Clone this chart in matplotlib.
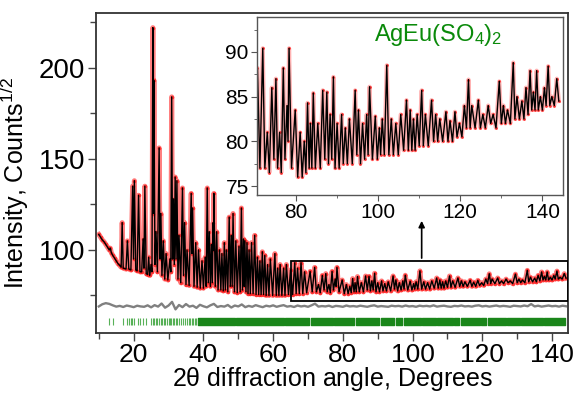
import numpy as np
import matplotlib
matplotlib.use("Agg")
import matplotlib.pyplot as plt
from matplotlib.ticker import MultipleLocator

plt.rcParams['font.family'] = ['Liberation Sans', 'DejaVu Sans']
plt.rcParams['mathtext.default'] = 'regular'

tth = [10.0, 10.5, 11.0, 11.5, 12.0, 12.5, 13.0, 13.3, 13.6, 14.0, 14.5, 15.0, 15.5, 16.0, 16.4,
       16.7, 17.0, 17.8, 18.2, 18.6, 19.2, 19.7, 19.95, 20.2, 20.6, 21.0, 21.4, 21.8, 22.3, 22.7,
       22.95, 23.2, 23.6, 24.0, 24.3, 24.6, 25.0, 25.25, 25.5, 25.65, 25.8, 26.1, 26.4, 26.8, 27.3,
       27.55, 27.8, 28.1, 28.5, 28.9, 29.3, 29.8, 30.4, 30.65, 30.9, 31.15, 31.4, 31.65, 31.9, 32.15,
       32.4, 32.7, 33.0, 33.5, 34.0, 34.3, 34.6, 35.0, 35.3, 35.9, 36.5, 36.7, 36.9, 37.3, 37.8,
       38.2, 38.6, 39.1, 39.6, 40.0, 40.5, 40.8, 41.1, 41.4, 41.7, 42.0, 42.3, 42.55, 42.8, 42.9,
       43.0, 43.4, 43.8, 44.2, 44.6, 45.0, 45.3, 45.7, 46.0, 46.3, 46.6, 47.0, 47.4, 47.7, 48.0,
       48.25, 48.5, 48.9, 49.3, 49.7, 50.2, 50.55, 50.9, 51.2, 51.5, 51.7, 51.9, 52.2, 52.5, 52.8,
       53.1, 53.45, 53.8, 54.25, 54.7, 55.1, 55.5, 55.85, 56.2, 56.55, 56.9, 57.25, 57.6, 58.0, 58.4,
       58.8, 59.2, 59.85, 60.5, 60.9, 61.3, 61.65, 62.0, 62.5, 63.0, 63.4, 63.8, 64.4, 65.0, 65.6,
       66.2, 66.6, 67.0, 67.5, 68.0, 68.5, 69.0, 69.6, 70.6, 71.2, 71.9, 72.4, 73.0, 73.5, 74.1,
       74.6, 75.1, 75.5, 76.0, 76.4, 76.9, 77.3, 77.8, 78.05, 78.3, 78.9, 79.8, 80.4, 81.0, 81.5,
       82.0, 82.4, 82.8, 83.2, 83.5, 83.85, 84.2, 84.7, 85.3, 85.9, 86.5, 87.0, 87.5, 87.9, 88.3,
       88.7, 89.1, 89.5, 90.0, 90.5, 91.1, 91.5, 92.0, 92.5, 93.0, 93.7, 94.4, 94.8, 95.2, 95.7,
       96.2, 96.7, 97.2, 97.55, 97.9, 98.6, 99.3, 99.8, 100.3, 100.6, 101.0, 101.5, 102.1, 102.6, 103.2,
       103.7, 104.3, 104.9, 105.5, 106.2, 106.9, 107.35, 107.8, 108.2, 108.6, 109.0, 109.5, 110.0, 110.6,
       111.0, 111.5, 112.2, 113.0, 113.5, 114.0, 114.5, 115.0, 115.7, 116.5, 117.0, 117.5, 118.1, 118.7,
       119.2, 119.8, 120.4, 121.0, 121.5, 122.0, 122.4, 122.8, 123.6, 124.4, 124.9, 125.5, 126.1, 126.8,
       127.4, 128.0, 128.7, 129.5, 130.0, 130.5, 131.0, 131.5, 132.2, 132.9, 133.3, 133.8, 134.4, 135.0,
       135.5, 136.0, 136.5, 137.0, 137.4, 137.8, 138.2, 138.6, 139.0, 139.5, 140.0, 140.5, 140.9, 141.4,
       141.8, 142.3, 142.9, 143.5, 144.0]
intensity = [108.5, 107, 105.5, 104.5, 103, 101.5, 100, 101, 98.5, 97, 95.5, 94, 92.5, 91.5, 90.5,
             115, 90, 89.5, 105, 89.5, 89, 135, 95, 138, 89, 88.5, 130, 88, 88, 106,
             90, 135, 87, 86.5, 96, 86, 92, 88, 222, 120, 193, 92, 110, 88, 156,
             95, 120, 86, 105, 84, 98, 83.5, 95, 88, 184, 95, 128, 92, 140, 95,
             138, 84, 108, 82, 134, 86, 115, 81, 100, 80.5, 131, 98, 123, 80, 104,
             79.5, 100, 79, 94, 79, 96, 80, 134, 82, 110, 80, 103, 82, 115, 100,
             131, 80, 110, 78, 100, 78, 98, 77.5, 104, 78, 100, 77, 118, 80, 108,
             80, 120, 77, 105, 76.5, 102, 77, 123, 78, 106, 80, 105, 77, 104, 76,
             100, 76, 104, 76, 108, 75.5, 96, 75.5, 94, 75.5, 99, 75.5, 97, 75, 92,
             75, 95, 75, 98, 75, 90, 75, 92, 75, 90, 75, 92, 75.5, 89, 75.5,
             93, 76, 90, 76, 93, 76, 88, 76.5, 88.2, 77, 90.4, 77, 81, 76.5, 86,
             78, 87, 77, 81, 76.5, 88.2, 78, 84, 80, 90.4, 77, 83.5, 76, 81, 76,
             80, 76.5, 84.3, 77, 82, 77, 85.4, 77, 82, 77, 85.7, 78, 85.5, 77.5, 83,
             78, 87.2, 77, 82, 77, 83, 77.5, 81.5, 77.5, 82.5, 77.5, 85.7, 78.5, 83.5, 77.5,
             82, 78, 83, 78.5, 86.1, 78, 82.8, 78, 81.5, 78.5, 82.5, 78.5, 88.5, 78.5, 82.5,
             78.5, 82, 78.5, 83, 79, 84.6, 79, 83.5, 79, 82.5, 79, 83, 79.5, 85.7,
             79.5, 83, 79.5, 84.6, 80, 83, 80, 82.5, 80, 83.3, 80, 82.3, 80, 83.3,
             80.5, 82, 80.5, 84, 81.5, 86.9, 81.5, 84, 81.5, 84.6, 81.5, 83, 81.5, 84,
             82, 83, 81.5, 86.7, 82, 84, 82, 83.5, 82, 88.8, 82.5, 85, 82.5, 84.5,
             82.5, 86, 83, 87.9, 83.5, 85.5, 83.5, 87.9, 83.5, 85, 83.5, 86, 84, 88.4,
             84, 85, 84, 87, 84.5]

# difference curve (obs - calc, shifted)
diff_x = list(range(10, 145))
diff_y = [69.0, 70.2, 70.8, 70.4, 69.6, 68.9, 69.3, 68.7, 69.5, 69.1, 68.6, 69.4, 69.0, 68.8, 69.6,
          68.5, 69.7, 68.9, 70.6, 68.3, 69.5, 71.5, 67.4, 69.8, 68.6, 70.3, 68.9, 69.4, 68.2, 69.9,
          69.1, 68.5, 69.6, 70.4, 68.7, 69.2, 68.9, 69.8, 68.4, 69.5, 69.0, 70.1, 68.6, 69.3, 68.8,
          69.7, 69.1, 68.6, 69.4, 69.0, 69.6, 68.8, 69.3, 69.7, 68.9, 69.2, 68.7, 69.5, 69.0, 69.3,
          68.8, 69.6, 70.5, 68.9, 69.2, 69.0, 69.4, 68.7, 69.3, 69.1, 68.8, 69.5, 69.0, 69.2, 68.9,
          69.4, 69.1, 68.8, 69.3, 69.6, 68.9, 69.2, 69.0, 68.8, 69.4, 69.1, 69.3, 68.9, 69.5, 69.0,
          69.2, 68.8, 69.4, 69.1, 69.3, 69.0, 69.6, 68.9, 69.2, 69.4, 69.0, 68.8, 69.3, 69.1, 69.5,
          69.0, 69.2, 68.9, 69.4, 69.6, 69.0, 69.3, 68.9, 69.2, 69.5, 69.0, 69.3, 69.1, 68.8, 69.4,
          69.2, 69.0, 69.5, 69.1, 70.3, 69.0, 69.4, 68.9, 69.2, 69.5, 69.1, 69.3, 68.9, 69.4, 69.1]

# Bragg reflection positions
refl_single = [12.8, 14.2, 16.8, 18.1, 18.6, 19.1, 19.6, 20.1, 21.3, 21.9, 22.7, 23.4, 25.0, 25.4,
               25.9, 26.4, 26.8, 27.2, 27.7, 28.1, 28.6, 29.0, 29.5, 30.0, 30.4, 30.8, 31.2, 31.6,
               32.0, 32.5, 33.0, 33.6, 34.2, 34.7, 35.3, 35.8, 36.2, 36.7, 37.1, 37.6, 38.0]
refl_bands = [(38.4, 49.0), (49.3, 63.1), (63.5, 70.4), (70.8, 77.1), (77.5, 83.3), (83.7, 90.4),
              (90.8, 94.7), (95.1, 97.1), (97.5, 102.4), (102.8, 106.7), (107.1, 111.5),
              (111.9, 113.4), (113.8, 119.2), (119.6, 121.1), (121.5, 126.8), (127.2, 130.7),
              (131.1, 137.4), (137.8, 143.8)]

fig = plt.figure(figsize=(5.75, 3.96), dpi=100)
ax = fig.add_axes([0.167, 0.159, 0.821, 0.808])

ax.plot(tth, intensity, color='red', lw=3.6, alpha=0.5, zorder=2)
ax.plot(tth, intensity, 'o', color='red', ms=2.6, alpha=0.6, mew=0, zorder=2)
ax.plot(tth, intensity, color='black', lw=1.0, zorder=3)
ax.plot(diff_x, diff_y, color='#808080', lw=1.7, zorder=2)
ax.vlines(refl_single, 58.6, 62.4, color='#2e9e2e', lw=0.8, alpha=0.8)
ax.broken_barh([(a, b - a) for a, b in refl_bands], (58.6, 3.8), color='#1a861a')

# zoom box + arrow
ax.add_patch(plt.Rectangle((65, 72), 79.6, 22, fill=False, ec='black', lw=1.3, zorder=4))
ax.annotate('', xy=(102.6, 117.5), xytext=(102.6, 94),
            arrowprops=dict(arrowstyle='-|>', color='black', lw=1.2, mutation_scale=9))

ax.set_xlim(9.2, 144.6)
ax.set_ylim(54.4, 230)
ax.xaxis.set_major_locator(MultipleLocator(20))
ax.xaxis.set_minor_locator(MultipleLocator(10))
ax.yaxis.set_major_locator(MultipleLocator(50))
ax.yaxis.set_minor_locator(MultipleLocator(25))
ax.tick_params(which='both', direction='out', top=False, right=False, labelsize=20,
               color='#444444', pad=2)
ax.tick_params(axis='x', labelsize=19, pad=1)
ax.tick_params(which='major', length=6, width=1)
ax.tick_params(which='minor', length=4, width=1)
for s in ax.spines.values():
    s.set_linewidth(1.3)
    s.set_color('#333333')
ax.set_xlabel(r'2$\theta$ diffraction angle, Degrees', fontsize=18, labelpad=-1)
ax.set_ylabel('Intensity, Counts$^{1/2}$', fontsize=18)
ax.yaxis.set_label_coords(-0.138, 0.47)

# inset
ins = fig.add_axes([0.447, 0.5076, 0.532, 0.4495])
ins.plot(tth, intensity, color='red', lw=3.0, alpha=0.3)
ins.plot(tth, intensity, 'o', color='red', ms=2.0, alpha=0.7, mew=0)
ins.plot(tth, intensity, color='black', lw=1.0)
ins.set_xlim(70.5, 145)
ins.set_ylim(74, 93.9)
ins.xaxis.set_major_locator(MultipleLocator(20))
ins.xaxis.set_minor_locator(MultipleLocator(10))
ins.yaxis.set_major_locator(MultipleLocator(5))
ins.yaxis.set_minor_locator(MultipleLocator(2.5))
ins.tick_params(which='both', direction='out', top=False, right=False, labelsize=15,
                color='#555555', pad=2)
ins.tick_params(which='major', length=4)
ins.tick_params(which='minor', length=2.5)
for s in ins.spines.values():
    s.set_linewidth(1.0)
    s.set_color('#555555')
ins.text(114.6, 91.9, 'AgEu(SO$_4$)$_2$', color='#0a8a0a', fontsize=17, ha='center', va='center')

fig.savefig('out.png', dpi=100)
